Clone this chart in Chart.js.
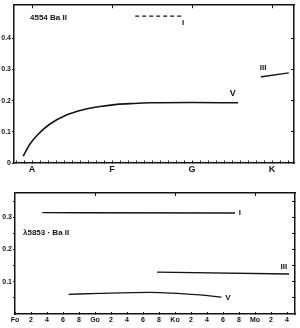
<!DOCTYPE html>
<html>
<head>
<meta charset="utf-8">
<script src="https://cdn.jsdelivr.net/npm/chart.js@4.4.0/dist/chart.umd.min.js"></script>
<style>
  body { margin: 0; background: #fff; }
  #wrap { position: relative; width: 300px; height: 328px; background: #fff; }
  canvas { position: absolute; left: 0; }
  #topChart { top: 0; }
  #bottomChart { top: 185px; }
</style>
</head>
<body>
<div id="wrap">
  <canvas id="topChart" width="300" height="185" style="width:300px;height:185px"></canvas>
  <canvas id="bottomChart" width="300" height="143" style="width:300px;height:143px"></canvas>
</div>
<script>
// top panel: 4554 Ba II, x in spectral subclasses counted from A0
const topClassLabels = ['A', 'F', 'G', 'K'];
const topYTicks = [0, 0.1, 0.2, 0.3, 0.4];
const v4554X = [-1.1, -0.25, 0.8, 2.25, 4.3, 6.4, 8.5, 10.6, 12.7, 14.75, 20, 25.75];
const v4554Y = [0.022, 0.061, 0.093, 0.125, 0.154, 0.171, 0.181, 0.188, 0.191, 0.193, 0.194, 0.193];
const iii4554X = [28.6, 32.1];
const iii4554Y = [0.276, 0.289];
const i4554X = [12.9, 18.75];
const i4554Y = [0.471, 0.471];

// bottom panel: 5853 Ba II, x in subclasses counted from F0
const bottomTickLabels = ['Fo', '2', '4', '6', '8', 'Go', '2', '4', '6', '8', 'Ko', '2', '4', '6', '8', 'Mo', '2', '4'];
const bottomYTicks = [0.05, 0.1, 0.15, 0.2, 0.25, 0.3, 0.35];
const i5853X = [3.4, 27.5];
const i5853Y = [0.314, 0.313];
const iii5853X = [17.75, 34.25];
const iii5853Y = [0.130, 0.124];
const v5853X = [6.7, 10.6, 16.9, 23.1, 25.8];
const v5853Y = [0.061, 0.064, 0.067, 0.059, 0.052];

const INK = '#141414';
const FONT = '"Liberation Sans", Arial, sans-serif';

function pts(xs, ys) {
    return xs.map((x, i) => ({ x: x, y: ys[i] }));
}

function steps(from, to, step) {
    const out = [];
    for (let v = from; v <= to + 1e-9; v += step) out.push(Math.round(v * 1000) / 1000);
    return out;
}

function lineSet(data, width, dash) {
    return {
        data: data,
        borderColor: INK,
        borderWidth: width,
        borderDash: dash || [],
        pointRadius: 0,
        cubicInterpolationMode: 'monotone',
        fill: false,
    };
}

// draws the panel title and the I / III / V labels at data positions
const notesPlugin = {
    id: 'notes',
    afterDatasetsDraw(chart, args, opts) {
        const ctx = chart.ctx;
        const sx = chart.scales.x, sy = chart.scales.y;
        ctx.save();
        ctx.fillStyle = INK;
        ctx.textBaseline = 'middle';
        (opts.items || []).forEach(n => {
            ctx.font = 'bold ' + n.size + 'px ' + FONT;
            ctx.textAlign = n.align || 'center';
            ctx.fillText(n.text, sx.getPixelForValue(n.x), sy.getPixelForValue(n.y));
        });
        ctx.restore();
    }
};

function frameAxis(position, min, max, tickValues, tickLen) {
    return {
        type: 'linear',
        position: position,
        min: min,
        max: max,
        afterBuildTicks: s => { s.ticks = tickValues.map(v => ({ value: v })); },
        afterFit: s => {
            if (position === 'top') s.height = 0; else s.width = 0;
        },
        border: { display: true, color: INK, width: 1.5 },
        grid: { drawOnChartArea: false, drawTicks: true, tickLength: tickLen, color: INK, tickWidth: 1 },
        ticks: { display: false },
    };
}

// ---------- top panel ----------
new Chart(document.getElementById('topChart'), {
    type: 'line',
    data: {
        datasets: [
            lineSet(pts(v4554X, v4554Y), 1.6),
            lineSet(pts(iii4554X, iii4554Y), 1.4),
            lineSet(pts(i4554X, i4554Y), 1.1, [4, 3]),
        ],
    },
    options: {
        responsive: false,
        animation: false,
        layout: { padding: { top: 4, right: 6, left: 0, bottom: 0 } },
        plugins: {
            legend: { display: false },
            tooltip: { enabled: false },
            notes: {
                items: [
                    { text: '4554 Ba II', x: -0.25, y: 0.465, size: 8, align: 'left' },
                    { text: 'I', x: 18.9, y: 0.449, size: 8 },
                    { text: 'III', x: 28.9, y: 0.305, size: 8 },
                    { text: 'V', x: 25.1, y: 0.222, size: 9 },
                ],
            },
        },
        scales: {
            x: {
                type: 'linear',
                min: -2.25,
                max: 32.75,
                afterBuildTicks: s => { s.ticks = steps(-2, 32, 1).map(v => ({ value: v })); },
                afterFit: s => { s.height = 22; },
                border: { color: INK, width: 1.5 },
                grid: { drawOnChartArea: false, tickLength: -2.5, color: INK, tickWidth: 1 },
                ticks: {
                    autoSkip: false,
                    maxRotation: 0,
                    padding: 4,
                    color: INK,
                    font: { family: FONT, size: 9, weight: 'bold' },
                    callback: v => (v % 10 === 0 ? topClassLabels[v / 10] : ''),
                },
            },
            x2: frameAxis('top', -2.25, 32.75, [0, 10, 20, 30], -3),
            y: {
                type: 'linear',
                min: 0,
                max: 0.506,
                afterBuildTicks: s => { s.ticks = topYTicks.map(v => ({ value: v })); },
                afterFit: s => { s.width = 14; },
                border: { color: INK, width: 1.5 },
                grid: { drawOnChartArea: false, tickLength: 2, color: INK, tickWidth: 1 },
                ticks: {
                    padding: 1,
                    color: INK,
                    font: { family: FONT, size: 7, weight: 'bold' },
                    callback: v => (v === 0 ? '0' : v.toFixed(1)),
                },
            },
            y2: frameAxis('right', 0, 0.506, [0.1, 0.2, 0.3, 0.4], -3),
        },
    },
    plugins: [notesPlugin],
});

// ---------- bottom panel ----------
new Chart(document.getElementById('bottomChart'), {
    type: 'line',
    data: {
        datasets: [
            lineSet(pts(i5853X, i5853Y), 1.3),
            lineSet(pts(iii5853X, iii5853Y), 1.3),
            lineSet(pts(v5853X, v5853Y), 1.3),
        ],
    },
    options: {
        responsive: false,
        animation: false,
        layout: { padding: { top: 8, right: 5, left: 0, bottom: 0 } },
        plugins: {
            legend: { display: false },
            tooltip: { enabled: false },
            notes: {
                items: [
                    { text: '\u03bb5853 \u00b7 Ba II', x: 1.0, y: 0.251, size: 8, align: 'left' },
                    { text: 'I', x: 28.1, y: 0.313, size: 8 },
                    { text: 'III', x: 33.6, y: 0.145, size: 8 },
                    { text: 'V', x: 26.6, y: 0.05, size: 8 },
                ],
            },
        },
        scales: {
            x: {
                type: 'linear',
                min: 0,
                max: 35,
                afterBuildTicks: s => { s.ticks = bottomTickLabels.map((t, i) => ({ value: i * 2 })); },
                afterFit: s => { s.height = 14; },
                border: { color: INK, width: 1.5 },
                grid: { drawOnChartArea: false, tickLength: -2, color: INK, tickWidth: 1 },
                ticks: {
                    autoSkip: false,
                    maxRotation: 0,
                    padding: 4,
                    color: INK,
                    font: { family: FONT, size: 7, weight: 'bold' },
                    callback: v => bottomTickLabels[Math.round(v / 2)] || '',
                },
            },
            x2: frameAxis('top', 0, 35, [10, 20, 30], -3),
            y: {
                type: 'linear',
                min: 0,
                max: 0.375,
                afterBuildTicks: s => { s.ticks = bottomYTicks.map(v => ({ value: v })); },
                afterFit: s => { s.width = 15; },
                border: { color: INK, width: 1.5 },
                grid: { drawOnChartArea: false, tickLength: 2, color: INK, tickWidth: 1 },
                ticks: {
                    padding: 1,
                    color: INK,
                    font: { family: FONT, size: 7, weight: 'bold' },
                    callback: v => (Math.round(v * 100) % 10 === 0 ? v.toFixed(1) : ''),
                },
            },
            y2: frameAxis('right', 0, 0.375, bottomYTicks, -3),
        },
    },
    plugins: [notesPlugin],
});
</script>
</body>
</html>
